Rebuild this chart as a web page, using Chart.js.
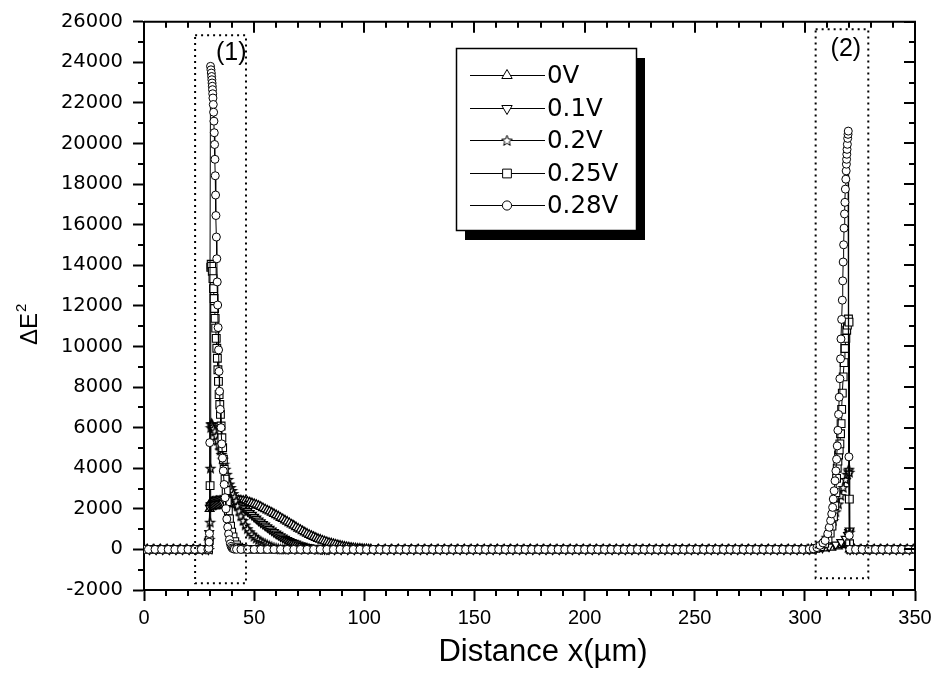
<!DOCTYPE html>
<html><head><meta charset="utf-8">
<script src="https://cdn.jsdelivr.net/npm/chart.js@4.4.1/dist/chart.umd.min.js"></script>
<style>html,body{margin:0;padding:0;background:#fff;}canvas{display:block;}</style>
</head><body>
<canvas id="c" width="937" height="675"></canvas>
<script>
// ---------- data (distance in µm, ΔE² values) ----------
const seriesLabels = ['0V', '0.1V', '0.2V', '0.25V', '0.28V'];
const xTickValues = [0, 50, 100, 150, 200, 250, 300, 350];
const yTickValues = [-2000, 0, 2000, 4000, 6000, 8000, 10000, 12000, 14000, 16000, 18000, 20000, 22000, 24000, 26000];
const xMinorStep = 10;
const yMinorStep = 1000;

const e0V = [
[1.5,0],[4.5,0],[7.5,0],[10.5,0],[13.5,0],[16.5,0],[19.5,0],[22.5,0],[25.5,0],[28.5,0],
[29.4,600],[29.8,2000],[30.1,2300],[30.5,2330],[31.1,2350],[31.7,2360],[32.3,2370],[32.9,2380],[33.5,2385],[34.1,2390],[34.7,2395],[35.3,2400],[36,2405],[37,2410],[38,2415],[39,2420],[40,2425],[41,2430],[42,2430],[43,2425],[44,2415],[45,2400],[46,2380],[47,2350],[48,2320],[49,2280],[50,2240],[51,2200],[52,2150],[53,2100],[54,2040],[55,1980],[56,1920],[57,1870],[58,1810],[59,1750],[60,1690],[61,1630],[62,1560],[63,1500],[64,1430],[65,1370],[66,1300],[67,1230],[68,1170],[69,1100],[70,1030],[71,970],[72,900],[73,840],[74,780],[75,720],[76,670],[77,620],[78,570],[79,520],[80,480],[81,440],[82,400],[83,365],[84,330],[85,300],[86,270],[87,240],[88,210],[89,185],[90,160],[91,140],[92,120],[93,100],[94,85],[95,70],[96,58],[97,47],[98,37],[99,28],[100,20],[101,14],[102,9],[103,5],
[106.5,0],[109.5,0],[112.5,0],[115.5,0],[118.5,0],[121.5,0],[124.5,0],[127.5,0],[130.5,0],[133.5,0],[136.5,0],[139.5,0],[142.5,0],[145.5,0],[148.5,0],[151.5,0],[154.5,0],[157.5,0],[160.5,0],[163.5,0],[166.5,0],[169.5,0],[172.5,0],[175.5,0],[178.5,0],[181.5,0],[184.5,0],[187.5,0],[190.5,0],[193.5,0],[196.5,0],[199.5,0],[202.5,0],[205.5,0],[208.5,0],[211.5,0],[214.5,0],[217.5,0],[220.5,0],[223.5,0],[226.5,0],[229.5,0],[232.5,0],[235.5,0],[238.5,0],[241.5,0],[244.5,0],[247.5,0],[250.5,0],[253.5,0],[256.5,0],[259.5,0],[262.5,0],[265.5,0],[268.5,0],[271.5,0],[274.5,0],[277.5,0],[280.5,0],[283.5,0],[286.5,0],[289.5,0],[292.5,0],[295.5,0],[298.5,0],[301.5,0],
[303,10],[306,25],[309,50],[312,90],[315,150],[317,210],[318.5,260],[319.5,310],[320,350],
[320.4,0],[322.5,0],[325.5,0],[328.5,0],[331.5,0],[334.5,0],[337.5,0],[340.5,0],[343.5,0],[346.5,0],[349.5,0]
];

const e01V = [
[2.5,0],[5.5,0],[8.5,0],[11.5,0],[14.5,0],[17.5,0],[20.5,0],[23.5,0],[26.5,0],[29.2,0],
[29.6,800],[29.9,2050],[30.2,2150],[30.6,2180],[31.2,2200],[31.8,2210],[32.4,2220],[33,2230],[33.6,2240],[34.2,2250],[34.8,2260],[35.4,2270],[36,2280],[37,2290],[38,2300],[39,2300],[40,2290],[41,2270],[42,2230],[43,2180],[44,2120],[45,2050],[46,1970],[47,1880],[48,1790],[49,1700],[50,1600],[51,1510],[52,1420],[53,1330],[54,1250],[55,1170],[56,1090],[57,1010],[58,930],[59,850],[60,780],[61,710],[62,640],[63,580],[64,520],[65,460],[66,410],[67,360],[68,320],[69,280],[70,240],[71,200],[72,170],[73,140],[74,115],[75,95],[76,78],[77,62],[78,48],[79,37],[80,28],[81,20],[82,14],[83,9],[84,5],
[86.5,0],[89.5,0],[92.5,0],[95.5,0],[98.5,0],[101.5,0],[104.5,0],[107.5,0],[110.5,0],[113.5,0],[116.5,0],[119.5,0],[122.5,0],[125.5,0],[128.5,0],[131.5,0],[134.5,0],[137.5,0],[140.5,0],[143.5,0],[146.5,0],[149.5,0],[152.5,0],[155.5,0],[158.5,0],[161.5,0],[164.5,0],[167.5,0],[170.5,0],[173.5,0],[176.5,0],[179.5,0],[182.5,0],[185.5,0],[188.5,0],[191.5,0],[194.5,0],[197.5,0],[200.5,0],[203.5,0],[206.5,0],[209.5,0],[212.5,0],[215.5,0],[218.5,0],[221.5,0],[224.5,0],[227.5,0],[230.5,0],[233.5,0],[236.5,0],[239.5,0],[242.5,0],[245.5,0],[248.5,0],[251.5,0],[254.5,0],[257.5,0],[260.5,0],[263.5,0],[266.5,0],[269.5,0],[272.5,0],[275.5,0],[278.5,0],[281.5,0],[284.5,0],[287.5,0],[290.5,0],[293.5,0],[296.5,0],[299.5,0],
[302,15],[305,40],[308,80],[311,140],[314,240],[316.5,360],[318.5,520],[319.6,700],[320.1,850],[320.3,930],
[320.5,0],[323.5,0],[326.5,0],[329.5,0],[332.5,0],[335.5,0],[338.5,0],[341.5,0],[344.5,0],[347.5,0]
];

const e02V = [
[1,0],[4,0],[7,0],[10,0],[13,0],[16,0],[19,0],[22,0],[25,0],[28,0],[29.5,0],
[29.8,500],[30,1340],[30.2,4000],[30.35,6000],[30.5,6180],[30.7,6200],[30.9,6150],[31.2,6050],[31.6,5950],[32.2,5830],[32.8,5600],[33.4,5380],[34,5150],[34.6,4900],[35.2,4680],[35.8,4450],[36.4,4200],[37,3950],[37.6,3700],[38.2,3450],[38.8,3220],[39.4,3050],[40,2900],[40.6,2750],[41.2,2600],[41.8,2400],[42.5,2150],[43.2,1900],[44,1650],[45,1420],[46,1200],[47,1020],[48,870],[49,750],[50,640],[51,550],[52,470],[53,400],[54,340],[55,290],[56,230],[57,180],[58,135],[59,95],[60,65],[61,40],[62,20],[63,8],
[64,0],[67,0],[70,0],[73,0],[76,0],[79,0],[82,0],[85,0],[88,0],[91,0],[94,0],[97,0],[100,0],[103,0],[106,0],[109,0],[112,0],[115,0],[118,0],[121,0],[124,0],[127,0],[130,0],[133,0],[136,0],[139,0],[142,0],[145,0],[148,0],[151,0],[154,0],[157,0],[160,0],[163,0],[166,0],[169,0],[172,0],[175,0],[178,0],[181,0],[184,0],[187,0],[190,0],[193,0],[196,0],[199,0],[202,0],[205,0],[208,0],[211,0],[214,0],[217,0],[220,0],[223,0],[226,0],[229,0],[232,0],[235,0],[238,0],[241,0],[244,0],[247,0],[250,0],[253,0],[256,0],[259,0],[262,0],[265,0],[268,0],[271,0],[274,0],[277,0],[280,0],[283,0],[286,0],[289,0],[292,0],[295,0],[298,0],
[301,10],[303,30],[305.3,110],[307.5,300],[309.9,600],[311.5,1000],[312.9,1420],[314,1850],[315.2,2240],[316.3,2650],[317.4,3050],[318.5,3450],[319.2,3700],[319.7,3870],[320,3950],[320.2,3800],[320.35,850],
[320.7,0],[322,0],[325,0],[328,0],[331,0],[334,0],[337,0],[340,0],[343,0],[346,0],[349,0]
];

const e025V = [
[0,0],[3,0],[6,0],[9,0],[12,0],[15,0],[18,0],[21,0],[24,0],[27,0],[29.3,0],
[29.6,440],[30,3140],[30.3,13900],[30.5,14050],[30.7,13950],[31,13700],[31.3,13340],[31.55,12850],[31.8,12360],[32.05,11870],[32.3,11380],[32.55,10900],[32.8,10400],[33.05,9910],[33.3,9420],[33.55,8850],[33.8,8280],[34.1,7630],[34.4,7140],[34.7,6650],[35,6080],[35.35,5500],[35.7,5010],[36.05,4440],[36.4,3950],[36.8,3460],[37.3,2900],[37.8,2350],[38.3,1900],[38.8,1500],[39.3,1150],[39.8,850],[40.4,620],[41.2,380],[42,220],[43,110],[44,50],[45,20],
[48,0],[51,0],[54,0],[57,0],[60,0],[63,0],[66,0],[69,0],[72,0],[75,0],[78,0],[81,0],[84,0],[87,0],[90,0],[93,0],[96,0],[99,0],[102,0],[105,0],[108,0],[111,0],[114,0],[117,0],[120,0],[123,0],[126,0],[129,0],[132,0],[135,0],[138,0],[141,0],[144,0],[147,0],[150,0],[153,0],[156,0],[159,0],[162,0],[165,0],[168,0],[171,0],[174,0],[177,0],[180,0],[183,0],[186,0],[189,0],[192,0],[195,0],[198,0],[201,0],[204,0],[207,0],[210,0],[213,0],[216,0],[219,0],[222,0],[225,0],[228,0],[231,0],[234,0],[237,0],[240,0],[243,0],[246,0],[249,0],[252,0],[255,0],[258,0],[261,0],[264,0],[267,0],[270,0],[273,0],[276,0],[279,0],[282,0],[285,0],[288,0],[291,0],[294,0],[297,0],[300,0],[303,0],
[305,50],[307,130],[309,300],[310.5,520],[311.5,800],[312.3,1150],[313,1600],[313.6,2150],[314.1,2800],[314.4,3500],[314.7,4000],[315,4350],[315.3,4650],[315.6,4900],[315.9,5200],[316.2,5700],[316.45,6200],[316.7,6900],[317,7700],[317.4,8500],[317.8,9200],[318.2,9900],[318.6,10400],[319,10800],[319.3,11050],[319.6,11250],[319.8,11350],[320.05,11200],[320.2,2480],[320.3,280],
[320.6,0],[324,0],[327,0],[330,0],[333,0],[336,0],[339,0],[342,0],[345,0],[348,0]
];

const e028V = [
[0,0],[2,0],[5,0],[8,0],[11,0],[14,0],[17,0],[20,0],[23,0],[26,0],[29,0],
[29.4,50],[29.55,360],[29.7,780],[29.85,5260],
[30.2,23800],[30.4,23630],[30.55,23470],[30.7,23300],[30.8,23140],[30.9,22980],[31,22820],[31.1,22650],[31.2,22450],[31.3,22240],[31.45,21920],[31.6,21540],[31.75,21100],[31.9,20530],[32.05,19950],[32.2,19220],[32.35,18410],[32.5,17460],
[32.65,16450],[32.85,15390],[33.05,14320],[33.25,13180],[33.45,12040],[33.65,10930],[33.85,9830],[34.05,8770],[34.3,7790],
[34.6,6900],[34.95,6000],[35.3,5200],[35.65,4500],[36,3870],[36.4,3200],[36.8,2550],[37.2,2000],[37.6,1500],[38,1100],[38.4,760],[38.8,480],[39.2,280],[39.6,150],[40,70],[40.5,30],[41,12],[42,4],
[44,0],[47,0],[50,0],[53,0],[56,0],[59,0],[62,0],[65,0],[68,0],[71,0],[74,0],[77,0],[80,0],[83,0],[86,0],[89,0],[92,0],[95,0],[98,0],[101,0],[104,0],[107,0],[110,0],[113,0],[116,0],[119,0],[122,0],[125,0],[128,0],[131,0],[134,0],[137,0],[140,0],[143,0],[146,0],[149,0],[152,0],[155,0],[158,0],[161,0],[164,0],[167,0],[170,0],[173,0],[176,0],[179,0],[182,0],[185,0],[188,0],[191,0],[194,0],[197,0],[200,0],[203,0],[206,0],[209,0],[212,0],[215,0],[218,0],[221,0],[224,0],[227,0],[230,0],[233,0],[236,0],[239,0],[242,0],[245,0],[248,0],[251,0],[254,0],[257,0],[260,0],[263,0],[266,0],[269,0],[272,0],[275,0],[278,0],[281,0],[284,0],[287,0],[290,0],[293,0],[296,0],[299,0],
[302,15],[303.8,30],[305.5,90],[306.9,200],[308.2,320],[309.2,440],[310.4,770],[311.1,1090],[311.7,1420],[312.2,1750],[312.6,2070],[312.9,2480],[313.3,2890],[313.7,3380],[314.1,3870],[314.4,4440],[314.7,5100],[315,5870],[315.3,6650],[315.6,7500],[315.9,8410],[316.2,9390],[316.4,10370],[316.7,11330],[317,12280],[317.2,13230],[317.4,14160],[317.6,15010],[317.8,15830],[318,16530],[318.2,17100],[318.4,17750],[318.6,18240],[318.75,18650],[318.85,18980],[318.95,19220],[319.05,19470],[319.15,19710],[319.3,19960],[319.45,20250],[319.6,20450],[319.7,20610],[320,4560],[320.15,690],
[320.4,0],[323,0],[326,0],[329,0],[332,0],[335,0],[338,0],[341,0],[344,0],[347,0],[350,0]
];

const seriesData = [e0V, e01V, e02V, e025V, e028V];

// dotted regions marked (1) and (2): x in µm, y in ΔE²
const regionBoxes = [
  { label: '(1)', x0: 23.2, x1: 46.3, y0: -1670, y1: 25330, lx: 39.6, ly: 24450 },
  { label: '(2)', x0: 304.9, x1: 328.8, y0: -1420, y1: 25630, lx: 318.6, ly: 24650 }
];

// ---------- styles ----------
function makeStar(outer, inner, lw) {
  const s = Math.ceil(outer * 2 + 3);
  const c = document.createElement('canvas');
  c.width = s; c.height = s;
  const g = c.getContext('2d');
  g.translate(s / 2, s / 2 + 0.4);
  g.beginPath();
  for (let i = 0; i < 10; i++) {
    const r = i % 2 ? inner : outer;
    const ang = -Math.PI / 2 + i * Math.PI / 5;
    if (i === 0) g.moveTo(r * Math.cos(ang), r * Math.sin(ang));
    else g.lineTo(r * Math.cos(ang), r * Math.sin(ang));
  }
  g.closePath();
  g.fillStyle = '#fff'; g.fill();
  g.lineWidth = lw; g.strokeStyle = '#000'; g.stroke();
  return c;
}
const starPlot = makeStar(4.6, 2.0, 1.3);
const starLegend = makeStar(5.6, 2.4, 1);

const plotMarkers = [
  { style: 'triangle', radius: 5, rotation: 0, bw: 1.3 },
  { style: 'triangle', radius: 5, rotation: 180, bw: 1.3 },
  { style: starPlot, radius: 4.6, rotation: 0, bw: 1.3 },
  { style: 'rect', radius: 5.5, rotation: 0, bw: 1.1 },
  { style: 'circle', radius: 4, rotation: 0, bw: 1 }
];
const legendMarkers = [
  { style: 'triangle', radius: 6, rotation: 0 },
  { style: 'triangle', radius: 6, rotation: 180 },
  { style: starLegend, radius: 5.6, rotation: 0 },
  { style: 'rect', radius: 6.2, rotation: 0 },
  { style: 'circle', radius: 4.6, rotation: 0 }
];

const decorPlugin = {
  id: 'decor',
  afterDraw(chart) {
    const { ctx, chartArea: a, scales } = chart;
    const xs = scales.x, ys = scales.y;
    ctx.save();
    ctx.strokeStyle = '#000';
    ctx.fillStyle = '#000';
    ctx.setLineDash([]);
    // top and right frame
    ctx.lineWidth = 2;
    ctx.beginPath();
    ctx.moveTo(a.left, a.top); ctx.lineTo(a.right, a.top); ctx.lineTo(a.right, a.bottom);
    ctx.stroke();
    const seg = (x1, y1, x2, y2) => { ctx.beginPath(); ctx.moveTo(x1, y1); ctx.lineTo(x2, y2); ctx.stroke(); };
    // x ticks: minor outward at bottom, all inward at top
    const nx = Math.round((xs.max - xs.min) / xMinorStep);
    for (let k = 0; k <= nx; k++) {
      const v = xs.min + k * xMinorStep;
      const px = Math.round(xs.getPixelForValue(v));
      const major = xTickValues.indexOf(v) >= 0;
      if (!major) seg(px, a.bottom, px, a.bottom + 6);
      seg(px, a.top, px, a.top + (major ? 11 : 6));
    }
    const ny = Math.round((ys.max - ys.min) / yMinorStep);
    for (let k = 0; k <= ny; k++) {
      const v = ys.min + k * yMinorStep;
      const py = Math.round(ys.getPixelForValue(v));
      const major = yTickValues.indexOf(v) >= 0;
      if (!major) seg(a.left, py, a.left - 6, py);
      seg(a.right, py, a.right - (major ? 11 : 6), py);
    }
    // dotted boxes and labels
    ctx.setLineDash([2, 4]);
    ctx.lineWidth = 2;
    regionBoxes.forEach(b => {
      const x0 = xs.getPixelForValue(b.x0), x1 = xs.getPixelForValue(b.x1);
      const y0 = ys.getPixelForValue(b.y0), y1 = ys.getPixelForValue(b.y1);
      ctx.strokeRect(x0, y1, x1 - x0, y0 - y1);
    });
    ctx.setLineDash([]);
    ctx.font = '25px "Liberation Sans", Arial, sans-serif';
    ctx.textAlign = 'center';
    ctx.textBaseline = 'middle';
    regionBoxes.forEach(b => {
      ctx.fillText(b.label, xs.getPixelForValue(b.lx), ys.getPixelForValue(b.ly));
    });
    // legend with shadow
    const L = { x: 456.5, y: 48.5, w: 180, h: 182 };
    ctx.fillStyle = '#000';
    ctx.fillRect(L.x + 8.5, L.y + 9.5, L.w, L.h);
    ctx.fillStyle = '#fff';
    ctx.fillRect(L.x, L.y, L.w, L.h);
    ctx.lineWidth = 1.5;
    ctx.strokeStyle = '#000';
    ctx.strokeRect(L.x, L.y, L.w, L.h);
    ctx.font = '24.5px "DejaVu Sans", sans-serif';
    ctx.textAlign = 'left';
    ctx.textBaseline = 'middle';
    const drawPoint = Chart.helpers && Chart.helpers.drawPoint;
    seriesLabels.forEach((lab, i) => {
      const yy = Math.round(75 + i * 32.5) + 0.5;
      ctx.lineWidth = 1;
      ctx.strokeStyle = '#000';
      seg(470, yy, 545, yy);
      const m = legendMarkers[i];
      ctx.fillStyle = '#fff';
      ctx.strokeStyle = '#000';
      ctx.lineWidth = 1;
      if (drawPoint) drawPoint(ctx, { pointStyle: m.style, rotation: m.rotation, radius: m.radius, borderWidth: 1 }, 507, yy);
      ctx.fillStyle = '#000';
      ctx.fillText(lab, 547, yy + 1);
    });
    // axis titles
    ctx.fillStyle = '#000';
    ctx.textAlign = 'center';
    ctx.textBaseline = 'alphabetic';
    ctx.font = '31px "Liberation Sans", Arial, sans-serif';
    ctx.fillText('Distance x(µm)', 543, 661);
    ctx.save();
    ctx.translate(28, 325);
    ctx.rotate(-Math.PI / 2);
    ctx.textAlign = 'left';
    ctx.font = '24px "Liberation Sans", Arial, sans-serif';
    ctx.fillText('ΔE', -20, 8.6);
    const wE = ctx.measureText('ΔE').width;
    ctx.font = '15px "Liberation Sans", Arial, sans-serif';
    ctx.fillText('2', -20 + wE + 1, -2.4);
    ctx.restore();
    ctx.restore();
  }
};

new Chart(document.getElementById('c'), {
  type: 'line',
  data: {
    datasets: seriesLabels.map((lab, i) => ({
      label: lab,
      data: seriesData[i],
      order: seriesLabels.length - 1 - i,
      borderColor: '#000',
      borderWidth: 1,
      tension: 0,
      fill: false,
      pointStyle: plotMarkers[i].style,
      pointRadius: plotMarkers[i].radius,
      pointRotation: plotMarkers[i].rotation,
      pointBackgroundColor: '#fff',
      pointBorderColor: '#000',
      pointBorderWidth: plotMarkers[i].bw
    }))
  },
  options: {
    responsive: false,
    animation: false,
    devicePixelRatio: 1,
    events: [],
    layout: { padding: { top: 18, right: 22, left: 0, bottom: 0 } },
    plugins: { legend: { display: false }, tooltip: { enabled: false } },
    scales: {
      x: {
        type: 'linear', min: 0, max: 350,
        afterBuildTicks: s => { s.ticks = xTickValues.map(v => ({ value: v })); },
        afterFit: s => { s.height = 85; },
        border: { display: true, color: '#000', width: 2 },
        grid: { display: true, drawOnChartArea: false, drawTicks: true, tickLength: 11, tickWidth: 2, tickColor: '#000', color: '#000' },
        ticks: { color: '#000', padding: 5, maxRotation: 0, autoSkip: false, font: { family: '"Liberation Sans", Arial, sans-serif', size: 20 }, callback: v => String(v) }
      },
      y: {
        type: 'linear', min: -2000, max: 26000,
        afterBuildTicks: s => { s.ticks = yTickValues.map(v => ({ value: v })); },
        afterFit: s => { s.width = 144; },
        border: { display: true, color: '#000', width: 2 },
        grid: { display: true, drawOnChartArea: false, drawTicks: true, tickLength: 11, tickWidth: 2, tickColor: '#000', color: '#000' },
        ticks: { color: '#000', padding: 10, autoSkip: false, font: { family: '"DejaVu Sans", sans-serif', size: 19.5 }, callback: v => String(v) }
      }
    }
  },
  plugins: [decorPlugin]
});
</script>
</body></html>
